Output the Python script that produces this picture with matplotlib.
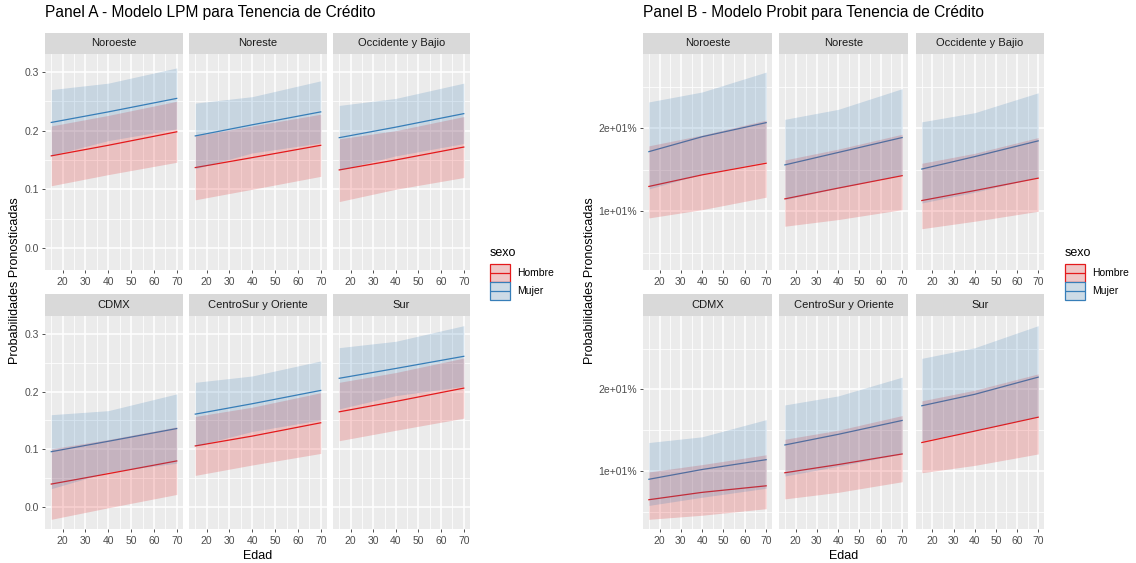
import matplotlib
matplotlib.use("Agg")
import matplotlib.pyplot as plt
from matplotlib.patches import Rectangle
from matplotlib.lines import Line2D
from matplotlib.colors import to_rgb

plt.rcParams["font.family"] = ["Liberation Sans", "DejaVu Sans"]

# ---------------- data ----------------
REGIONES = ["Noroeste", "Noreste", "Occidente y Bajio",
            "CDMX", "CentroSur y Oriente", "Sur"]
EDAD = [15, 40, 70]
SEXOS = ["Hombre", "Mujer"]

# Modelo LPM: probabilidad pronosticada e intervalo por región (filas) y edad
lpm_hombre_fit = [[0.157, 0.175, 0.198], [0.137, 0.154, 0.175], [0.133, 0.150, 0.172],
                  [0.040, 0.058, 0.080], [0.106, 0.123, 0.146], [0.165, 0.183, 0.206]]
lpm_hombre_lo = [[0.106, 0.125, 0.146], [0.082, 0.100, 0.122], [0.079, 0.100, 0.120],
                 [-0.021, -0.001, 0.022], [0.055, 0.073, 0.093], [0.115, 0.133, 0.154]]
lpm_hombre_hi = [[0.208, 0.226, 0.250], [0.191, 0.208, 0.228], [0.186, 0.200, 0.224],
                 [0.101, 0.117, 0.139], [0.157, 0.173, 0.198], [0.216, 0.233, 0.258]]
lpm_mujer_fit = [[0.214, 0.232, 0.255], [0.191, 0.210, 0.232], [0.188, 0.206, 0.229],
                 [0.096, 0.114, 0.136], [0.161, 0.179, 0.202], [0.223, 0.240, 0.261]]
lpm_mujer_lo = [[0.158, 0.183, 0.203], [0.135, 0.162, 0.179], [0.133, 0.157, 0.178],
                [0.032, 0.061, 0.076], [0.106, 0.131, 0.151], [0.170, 0.193, 0.209]]
lpm_mujer_hi = [[0.270, 0.281, 0.307], [0.247, 0.258, 0.285], [0.243, 0.255, 0.281],
                [0.160, 0.167, 0.196], [0.216, 0.227, 0.253], [0.276, 0.287, 0.314]]

# Modelo Probit
probit_hombre_fit = [[0.130, 0.144, 0.158], [0.115, 0.128, 0.143], [0.113, 0.125, 0.140],
                     [0.065, 0.074, 0.082], [0.098, 0.108, 0.121], [0.135, 0.149, 0.166]]
probit_hombre_lo = [[0.092, 0.102, 0.117], [0.082, 0.090, 0.102], [0.079, 0.088, 0.100],
                    [0.041, 0.046, 0.054], [0.066, 0.074, 0.087], [0.098, 0.107, 0.121]]
probit_hombre_hi = [[0.179, 0.192, 0.210], [0.162, 0.175, 0.193], [0.158, 0.170, 0.189],
                    [0.099, 0.108, 0.120], [0.139, 0.150, 0.168], [0.186, 0.199, 0.219]]
probit_mujer_fit = [[0.172, 0.190, 0.207], [0.156, 0.171, 0.189], [0.151, 0.166, 0.185],
                    [0.090, 0.102, 0.114], [0.132, 0.145, 0.162], [0.180, 0.194, 0.215]]
probit_mujer_lo = [[0.127, 0.145, 0.160], [0.114, 0.128, 0.144], [0.110, 0.123, 0.141],
                   [0.058, 0.068, 0.079], [0.094, 0.106, 0.121], [0.137, 0.150, 0.167]]
probit_mujer_hi = [[0.232, 0.244, 0.268], [0.211, 0.223, 0.248], [0.208, 0.219, 0.243],
                   [0.135, 0.142, 0.163], [0.181, 0.192, 0.215], [0.238, 0.251, 0.278]]

X_BREAKS = [20, 30, 40, 50, 60, 70]
X_MINOR = [15, 25, 35, 45, 55, 65]
LPM_BREAKS = [0.0, 0.1, 0.2, 0.3]
LPM_MINOR = [0.05, 0.15, 0.25]
PROBIT_BREAKS = [0.1, 0.2]
PROBIT_MINOR = [0.05, 0.15, 0.25]

COLORES = {"Hombre": "#E41A1C", "Mujer": "#377EB8"}

# ---------------- layout (pixels) ----------------
W, H = 1136, 563
fig = plt.figure(figsize=(W / 100, H / 100), dpi=100)
fig.patch.set_facecolor("white")


def fx(x):
    return x / W


def fy(y):
    return 1 - y / H


def rect(x0, y0, x1, y1):
    return [x0 / W, 1 - y1 / H, (x1 - x0) / W, (y1 - y0) / H]


def expand(lo, hi, frac=0.05):
    r = hi - lo
    return lo - frac * r, hi + frac * r


def mix(c, alpha, bg="#EBEBEB"):
    a, b = to_rgb(c), to_rgb(bg)
    return tuple(alpha * ai + (1 - alpha) * bi for ai, bi in zip(a, b))


def draw_panel(cols, rows, title, title_x, ylab_x, series, breaks, minor,
               fmt, legend_x):
    all_vals = [v for s in series.values() for part in s for row in part for v in row]
    ylim = expand(min(all_vals), max(all_vals))
    xlim = expand(min(EDAD), max(EDAD))
    for i, reg in enumerate(REGIONES):
        r, c = divmod(i, 3)
        x0, x1 = cols[c]
        s_top, s_bot, p_bot = rows[r]
        ax = fig.add_axes(rect(x0, s_bot, x1, p_bot))
        ax.set_facecolor("#EBEBEB")
        for sp in ax.spines.values():
            sp.set_visible(False)
        ax.set_xlim(*xlim)
        ax.set_ylim(*ylim)
        for v in X_MINOR:
            ax.axvline(v, color="white", lw=0.55, zorder=0)
        for v in X_BREAKS:
            ax.axvline(v, color="white", lw=1.1, zorder=0)
        for v in minor:
            ax.axhline(v, color="white", lw=0.55, zorder=0)
        for v in breaks:
            ax.axhline(v, color="white", lw=1.1, zorder=0)
        for sexo in SEXOS:
            fit, lo, hi = series[sexo]
            ax.plot(EDAD, fit[i], color=COLORES[sexo], lw=0.9, zorder=2)
        for sexo in SEXOS:
            fit, lo, hi = series[sexo]
            ax.fill_between(EDAD, lo[i], hi[i], color=COLORES[sexo],
                            alpha=0.2, lw=0, zorder=3)
        ax.set_xticks(X_BREAKS)
        ax.set_xticklabels([str(v) for v in X_BREAKS])
        ax.tick_params(axis="x", length=2.5, width=0.6, color="#333333",
                       labelsize=7.5, labelcolor="#4D4D4D", pad=2.5)
        if c == 0:
            ax.set_yticks(breaks)
            ax.set_yticklabels([fmt(v) for v in breaks])
            ax.tick_params(axis="y", length=2.5, width=0.6, color="#333333",
                           labelsize=7.5, labelcolor="#4D4D4D", pad=2)
        else:
            ax.set_yticks([])
        # strip
        sax = fig.add_axes(rect(x0, s_top, x1, s_bot))
        sax.set_facecolor("#D9D9D9")
        sax.set_xticks([])
        sax.set_yticks([])
        for sp in sax.spines.values():
            sp.set_visible(False)
        sax.text(0.5, 0.5, reg, ha="center", va="center", fontsize=8,
                 color="#1A1A1A", transform=sax.transAxes)

    fig.text(fx(title_x), fy(13), title, ha="left", va="center",
             fontsize=11.2, color="black")
    left, right = cols[0][0], cols[2][1]
    fig.text(fx((left + right) / 2), fy(556), "Edad", ha="center",
             va="center", fontsize=9)
    fig.text(fx(ylab_x), fy((rows[0][0] + rows[1][2]) / 2),
             "Probabilidades Pronosticadas", rotation=90, ha="center",
             va="center", fontsize=9)

    # legend
    fig.text(fx(legend_x), fy(253), "sexo", ha="left", va="center",
             fontsize=9)
    key_h = 18
    for k, sexo in enumerate(SEXOS):
        ky0 = 264 + k * key_h
        col = COLORES[sexo]
        fig.add_artist(Rectangle((fx(legend_x), fy(ky0 + key_h)),
                                 (key_h + 2) / W, key_h / H,
                                 transform=fig.transFigure,
                                 facecolor=mix(col, 0.2, "#F2F2F2"),
                                 edgecolor=col, lw=0.9))
        fig.add_artist(Line2D([fx(legend_x + 1), fx(legend_x + key_h + 1)],
                              [fy(ky0 + key_h / 2)] * 2,
                              transform=fig.transFigure, color=col, lw=0.9))
        fig.text(fx(legend_x + 27), fy(ky0 + key_h / 2), sexo, ha="left",
                 va="center", fontsize=7.5)


ROWS = [(33, 54, 270), (294, 316, 529)]

draw_panel(
    cols=[(45, 183), (189, 327), (333, 470)], rows=ROWS,
    title="Panel A - Modelo LPM para Tenencia de Crédito", title_x=45,
    ylab_x=15,
    series={"Hombre": (lpm_hombre_fit, lpm_hombre_lo, lpm_hombre_hi),
            "Mujer": (lpm_mujer_fit, lpm_mujer_lo, lpm_mujer_hi)},
    breaks=LPM_BREAKS, minor=LPM_MINOR, fmt=lambda v: f"{v:.1f}",
    legend_x=490)

draw_panel(
    cols=[(643, 772), (779, 908), (916, 1044)], rows=ROWS,
    title="Panel B - Modelo Probit para Tenencia de Crédito", title_x=643,
    ylab_x=590,
    series={"Hombre": (probit_hombre_fit, probit_hombre_lo, probit_hombre_hi),
            "Mujer": (probit_mujer_fit, probit_mujer_lo, probit_mujer_hi)},
    breaks=PROBIT_BREAKS, minor=PROBIT_MINOR,
    fmt=lambda v: f"{v * 100:.0e}%", legend_x=1065)

fig.savefig("out.png", dpi=100)
